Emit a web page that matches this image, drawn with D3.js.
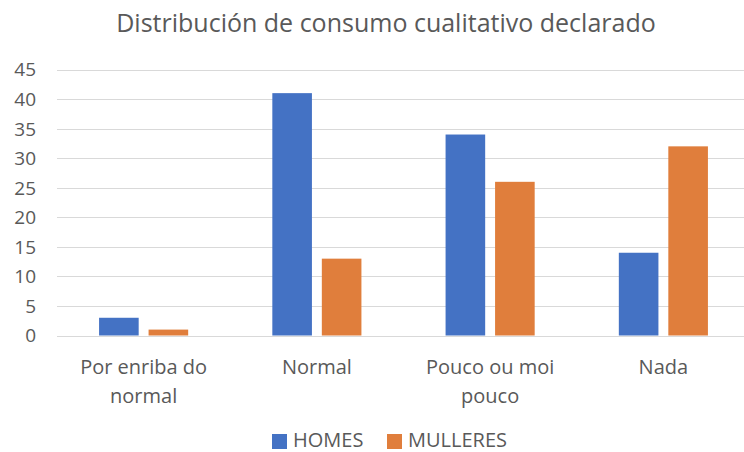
<!DOCTYPE html>
<html><head><meta charset="utf-8">
<script src="https://cdn.jsdelivr.net/npm/d3@7"></script>
<style>body{margin:0;background:#fff}svg{display:block}text{font-family:"Open Sans",sans-serif;fill:#595959}</style>
</head><body><svg id="c" width="744" height="452"></svg>
<script>
const title = "Distribución de consumo cualitativo declarado";
const categories = ["Por enriba do normal", "Normal", "Pouco ou moi pouco", "Nada"];
const seriesNames = ["HOMES", "MULLERES"];
const homes = [3, 41, 34, 14];
const mulleres = [1, 13, 26, 32];
const yTicks = [0, 5, 10, 15, 20, 25, 30, 35, 40, 45];
const colors = ["#4472C4", "#E07E3C"];

const svg = d3.select("#c");
const W = 744, H = 452;
const m = {left: 57, right: -6, top: 69.5, bottom: 116.5};
const x = d3.scaleBand().domain(categories).range([m.left, W - m.right]).paddingInner(0).paddingOuter(0);
const x1 = d3.scaleBand().domain(seriesNames).range([0, x.bandwidth()]).paddingInner(0.2).paddingOuter(0.85);
const y = d3.scaleLinear().domain([0, 45]).range([H - m.bottom, m.top]);

// gridlines
svg.append("g").selectAll("line").data(yTicks).join("line")
  .attr("x1", m.left).attr("x2", W).attr("y1", d => Math.round(y(d)) + 0.5).attr("y2", d => Math.round(y(d)) + 0.5)
  .attr("stroke", "#d9d9d9").attr("stroke-width", 1.2);

// y axis labels
const yAxis = d3.axisLeft(y).tickValues(yTicks).tickSize(0).tickPadding(0);
const gy = svg.append("g").attr("transform", `translate(36,0)`).call(yAxis);
gy.select(".domain").remove();
gy.selectAll("text").style("font-size", "19px").attr("fill", "#595959").attr("dy", "0.34em");

// bars
const data = categories.map((c, i) => ({c, vals: [homes[i], mulleres[i]]}));
const groups = svg.append("g").selectAll("g").data(data).join("g").attr("transform", d => `translate(${x(d.c)},0)`);
groups.selectAll("rect").data(d => d.vals.map((v, j) => ({s: seriesNames[j], v, j}))).join("rect")
  .attr("x", d => x1(d.s)).attr("width", x1.bandwidth())
  .attr("y", d => y(d.v)).attr("height", d => y(0) - y(d.v))
  .attr("fill", d => colors[d.j]);

// x axis labels
const xAxis = d3.axisBottom(x).tickSize(0).tickPadding(0);
const gx = svg.append("g").attr("transform", `translate(0,${y(0)})`).call(xAxis);
gx.select(".domain").remove();
gx.selectAll("text").style("font-size", "20px").attr("fill", "#595959")
  .each(function(d) {
    const t = d3.select(this); t.text(null).attr("y", 0).attr("dy", null);
    const words = d.split(" "); let lines = [], cur = [];
    const tmp = svg.append("text").style("font-size", "20px");
    words.forEach(w => {
      const test = cur.concat([w]).join(" ");
      tmp.text(test);
      if (tmp.node().getComputedTextLength() > 150 && cur.length) { lines.push(cur.join(" ")); cur = [w]; }
      else cur.push(w);
    });
    lines.push(cur.join(" ")); tmp.remove();
    lines.forEach((l, i) => t.append("tspan").attr("x", 0).attr("y", 38 + i * 29).text(l));
  });

// title
svg.append("text").attr("x", 386).attr("y", 32).attr("text-anchor", "middle")
  .style("font-size", "25px").text(title);

// legend
const leg = svg.append("g").selectAll("g").data(seriesNames).join("g")
  .attr("transform", (d, i) => `translate(${[272, 387][i]},0)`);
leg.append("rect").attr("x", 0).attr("y", 434).attr("width", 15).attr("height", 15).attr("fill", (d, i) => colors[i]);
leg.append("text").attr("x", 21).attr("y", 447).style("font-size", "20px").text(d => d);
</script></body></html>
